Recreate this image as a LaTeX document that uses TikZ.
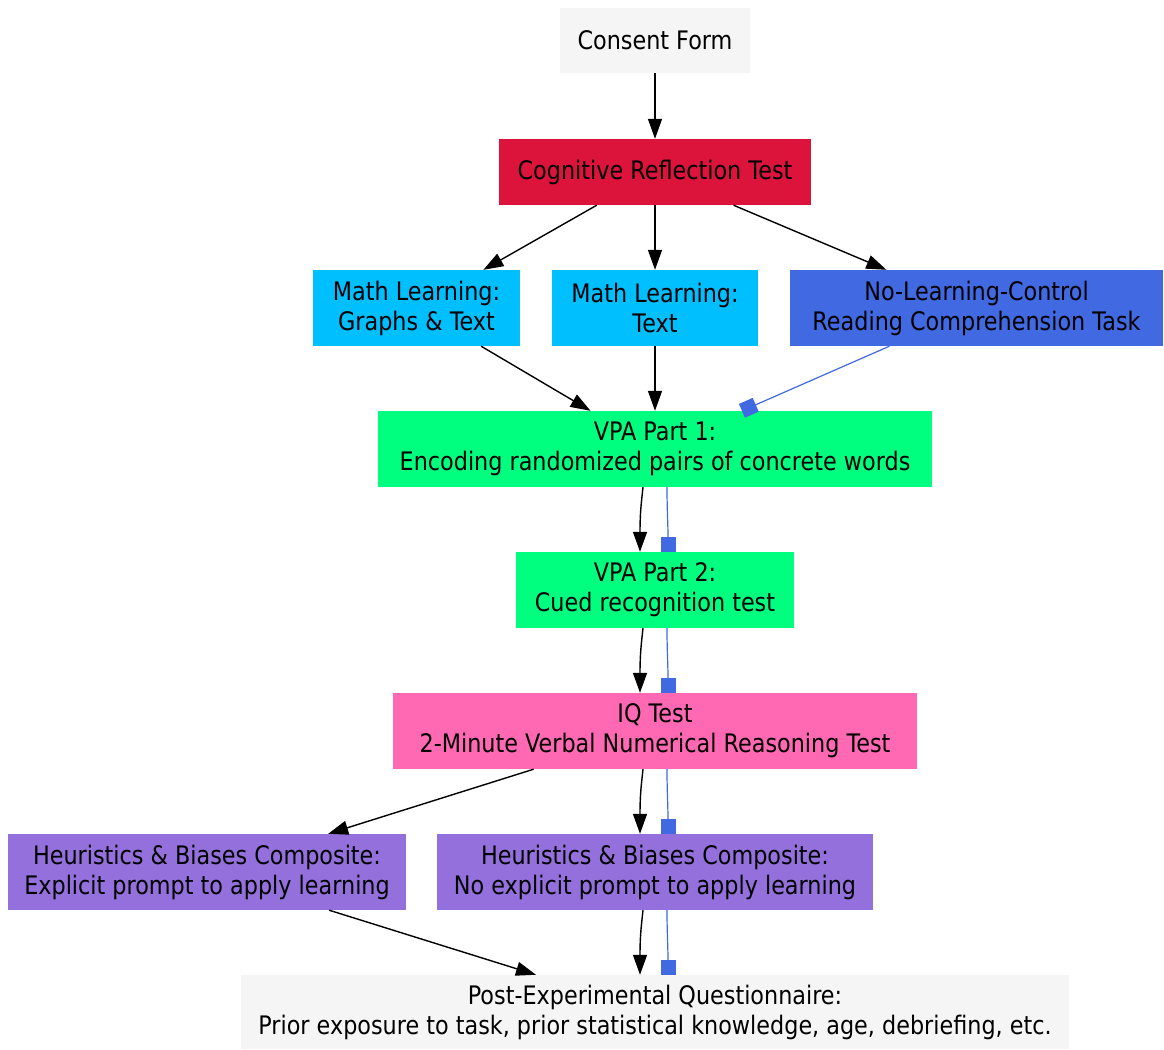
\documentclass[tikz,border=0pt]{standalone}
\usepackage{fontspec}
\setmainfont{DejaVu Sans}[FakeStretch=0.875]
\usetikzlibrary{arrows.meta}
\definecolor{smoke}{HTML}{F5F5F5}
\definecolor{crimsonred}{HTML}{DC143C}
\definecolor{skyblue}{HTML}{00BFFF}
\definecolor{royal}{HTML}{4169E1}
\definecolor{spring}{HTML}{00FF7F}
\definecolor{pinkhot}{HTML}{FF69B4}
\definecolor{purplemed}{HTML}{9370DB}
\tikzset{
  box/.style={draw=none, inner sep=0pt, align=center, text=black,
    font=\fontsize{25.5}{30}\selectfont},
  arr/.style={draw=black, line width=1.4pt, -{Triangle[length=20pt,width=14pt]}},
  boxarr/.style={draw=royal, line width=1.2pt, -{Square[length=15pt,width=15pt]}},
}
\begin{document}
\begin{tikzpicture}[x=1pt,y=-1pt]
\useasboundingbox (0,0) rectangle (1164,1049);
\fill[white] (0,0) rectangle (1164,1049);

% steps of the procedure
\node[box, fill=smoke, minimum width=190, minimum height=65] (cons) at (655,40.5) {Consent Form};
\node[box, fill=crimsonred, minimum width=312, minimum height=66] (crt) at (655,172) {Cognitive Reflection Test};
\node[box, fill=skyblue, minimum width=207, minimum height=76] (mlgt) at (416.5,308) {Math Learning:\\Graphs \& Text};
\node[box, fill=skyblue, minimum width=206, minimum height=76] (mlt) at (655,308) {Math Learning:\\Text};
\node[box, fill=royal, minimum width=373, minimum height=76] (nlc) at (976.5,308) {No-Learning-Control\\Reading Comprehension Task};
\node[box, fill=spring, minimum width=554, minimum height=76] (vpa1) at (655,449) {VPA Part 1:\\Encoding randomized pairs of concrete words};
\node[box, fill=spring, minimum width=278, minimum height=76] (vpa2) at (655,590) {VPA Part 2:\\Cued recognition test};
\node[box, fill=pinkhot, minimum width=524, minimum height=76] (iq) at (655,731) {IQ Test\\2-Minute Verbal Numerical Reasoning Test};
\node[box, fill=purplemed, minimum width=398, minimum height=76] (hb1) at (207,872) {Heuristics \& Biases Composite:\\Explicit prompt to apply learning};
\node[box, fill=purplemed, minimum width=436, minimum height=76] (hb2) at (655,872) {Heuristics \& Biases Composite:\\No explicit prompt to apply learning};
\node[box, fill=smoke, minimum width=828, minimum height=74] (post) at (655,1012) {Post-Experimental Questionnaire:\\Prior exposure to task, prior statistical knowledge, age, debriefing, etc.};

% learning conditions
\draw[arr] (cons) -- (crt);
\draw[arr] (crt) -- (mlgt);
\draw[arr] (crt) -- (mlt);
\draw[arr] (crt) -- (nlc);
\draw[arr] (mlgt) -- (vpa1);
\draw[arr] (mlt) -- (vpa1);
\draw[boxarr] (nlc) -- (vpa1);

% shared sequence: learning paths and control path side by side
\tikzset{
  lpath/.style={arr, to path={.. controls +(-1.5,14) and +(0,-40) .. (\tikztotarget)}},
  cpath/.style={boxarr, to path={.. controls +(0,22) and +(0,-28) .. (\tikztotarget)}},
}
\draw[lpath] ([xshift=-12pt]vpa1.south) to ([xshift=-15pt]vpa2.north);
\draw[cpath] ([xshift=12pt]vpa1.south) to ([xshift=13pt]vpa2.north);
\draw[lpath] ([xshift=-12pt]vpa2.south) to ([xshift=-15pt]iq.north);
\draw[cpath] ([xshift=12pt]vpa2.south) to ([xshift=13pt]iq.north);
\draw[arr] (iq) -- (hb1);
\draw[lpath] ([xshift=-12pt]iq.south) to ([xshift=-15pt]hb2.north);
\draw[cpath] ([xshift=12pt]iq.south) to ([xshift=13pt]hb2.north);
\draw[arr] (hb1) -- (post);
\draw[lpath] ([xshift=-12pt]hb2.south) to ([xshift=-15pt]post.north);
\draw[cpath] ([xshift=12pt]hb2.south) to ([xshift=13pt]post.north);
\end{tikzpicture}
\end{document}
